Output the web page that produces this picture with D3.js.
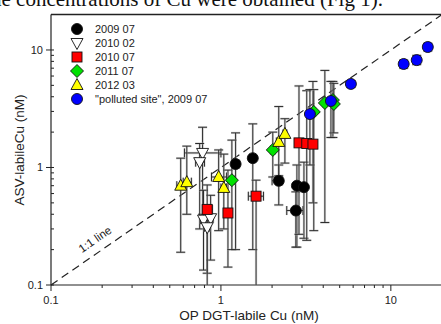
<!DOCTYPE html>
<html lang="en">
<head>
<meta charset="UTF-8">
<title>ASV vs DGT labile Cu</title>
<script src="https://d3js.org/d3.v7.min.js"></script>
<style>
    body { margin: 0; background: #fff; overflow: hidden; }
    svg { display: block; font-family: "Liberation Sans", Arial, sans-serif; }
</style>
</head>
<body>
<div id="chart"></div>
<script>
// each row: [x, y, yLo, yHi, xLo, xHi]
const jul2009 = [
    [1.22, 1.07, 0.20, 1.97, 1.17, 1.28],
    [1.54, 1.20, 0.20, 2.35, 1.48, 1.60],
    [2.19, 0.77, 0.48, 1.05, 2.00, 2.30],
    [2.80, 0.70, 0.21, 1.05, 2.72, 2.88],
    [3.08, 0.68, 0.25, 1.11, 3.00, 3.16],
    [2.76, 0.43, 0.21, 0.62, 2.44, 3.04]
];
const feb2010 = [
    [0.78, 1.33, 0.40, 2.20, 0.61, 1.00],
    [0.75, 1.11, 0.30, 1.60, 0.71, 0.80],
    [0.79, 0.36, 0.134, 0.64, 0.76, 0.82],
    [0.87, 0.37, 0.163, 0.58, 0.84, 0.90],
    [0.83, 0.31, 0.126, 0.48, 0.80, 0.86]
];
const jul2010 = [
    [0.83, 0.44, 0.05, 0.71, 0.78, 0.89],
    [1.10, 0.41, 0.142, 0.95, 1.05, 1.16],
    [1.61, 0.57, 0.05, 0.78, 1.45, 1.78],
    [2.88, 1.62, 0.27, 4.94, 2.82, 2.94],
    [3.20, 1.60, 0.24, 4.50, 3.14, 3.26],
    [3.48, 1.58, 0.50, 5.40, 3.42, 3.54]
];
const jul2011 = [
    [1.16, 0.78, 0.20, 1.71, 1.12, 1.20],
    [2.02, 1.41, 0.83, 2.00, 1.96, 2.08],
    [3.52, 2.97, 0.29, 4.60, 3.44, 3.60],
    [4.09, 3.54, 0.34, 6.70, 4.00, 4.18],
    [4.56, 3.75, 1.80, 5.40, 4.46, 4.66],
    [4.62, 3.47, 1.97, 5.20, 4.52, 4.72]
];
const mar2012 = [
    [0.58, 0.70, 0.19, 1.20, 0.55, 0.62],
    [0.63, 0.75, 0.40, 1.52, 0.60, 0.67],
    [0.97, 0.83, 0.29, 1.41, 0.88, 1.08],
    [1.04, 0.67, 0.30, 1.30, 1.00, 1.08],
    [2.19, 1.65, 0.85, 3.30, 2.12, 2.26],
    [2.38, 1.93, 1.09, 2.60, 2.32, 2.44]
];
const polluted = [
    [3.34, 2.85, 1.05, 4.60, 3.26, 3.42],
    [4.44, 3.68, 1.80, 5.40, 4.34, 4.54],
    [5.82, 5.14, 4.80, 5.50, 5.65, 6.00],
    [11.9, 7.60, 7.00, 8.20, 11.5, 12.3],
    [14.2, 8.20, 7.50, 9.00, 13.7, 14.7],
    [16.5, 10.6, 9.80, 11.4, 15.9, 17.1]
];

const legendLabels = ["2009 07", "2010 02", "2010 07", "2011 07", "2012 03", "\"polluted site\", 2009 07"];
const xTickLabels = ["0.1", "1", "10"];
const yTickLabels = ["0.1", "1", "10"];

const series = [
    { data: jul2009, shape: "circle", fill: "#000" },
    { data: feb2010, shape: "triangleDown", fill: "#fff" },
    { data: jul2010, shape: "square", fill: "#f00" },
    { data: jul2011, shape: "diamond", fill: "#00e000" },
    { data: mar2012, shape: "triangle", fill: "#ffff00" },
    { data: polluted, shape: "circle", fill: "#0000ff" }
];

const width = 441, height = 324;
const svg = d3.select("#chart").append("svg")
    .attr("width", width).attr("height", height);

// cropped caption line from the page above the figure
svg.append("text")
    .attr("x", -9).attr("y", 6)
    .attr("font-family", "'Liberation Serif', 'Times New Roman', serif")
    .attr("font-size", 21)
    .attr("fill", "#111")
    .text("he concentrations of Cu were obtained (Fig 1).");

const x = d3.scaleLog().domain([0.1, 20]).range([51, 442]);
const y = d3.scaleLog().domain([0.1, 20]).range([285, 14.6]);

svg.append("clipPath").attr("id", "plotClip")
    .append("rect").attr("x", 51).attr("y", 14.6).attr("width", 400).attr("height", 270.4);

// frame
svg.append("line").attr("x1", 51).attr("x2", 441).attr("y1", 14.6).attr("y2", 14.6)
    .attr("stroke", "#222").attr("stroke-width", 1.5);

// axes
const majors = [0.1, 1, 10];
const minors = [];
[0.1, 1, 10].forEach(d => { for (let k = 2; k <= 9; k++) minors.push(d * k); });

const xMinor = minors.filter(v => v < 20);
const yMinor = minors.filter(v => v < 20);

const xAxis = svg.append("g").attr("transform", "translate(0,285)");
xAxis.append("line").attr("x1", 51).attr("x2", 441).attr("stroke", "#222").attr("stroke-width", 1.2);
xAxis.selectAll(".minor").data(xMinor).enter().append("line")
    .attr("x1", d => x(d)).attr("x2", d => x(d)).attr("y1", 0).attr("y2", 3)
    .attr("stroke", "#222");
xAxis.selectAll(".major").data(majors).enter().append("line")
    .attr("x1", d => x(d)).attr("x2", d => x(d)).attr("y1", 0).attr("y2", 6)
    .attr("stroke", "#222");
xAxis.selectAll(".lbl").data(majors).enter().append("text")
    .attr("x", d => x(d)).attr("y", 19)
    .attr("text-anchor", "middle").attr("font-size", 11).attr("fill", "#222")
    .text((d, i) => xTickLabels[i]);

const yAxis = svg.append("g").attr("transform", "translate(51,0)");
yAxis.append("line").attr("y1", 14.6).attr("y2", 285).attr("stroke", "#222").attr("stroke-width", 1.2);
yAxis.selectAll(".minor").data(yMinor).enter().append("line")
    .attr("y1", d => y(d)).attr("y2", d => y(d)).attr("x1", 0).attr("x2", 3)
    .attr("stroke", "#222");
yAxis.selectAll(".major").data(majors).enter().append("line")
    .attr("y1", d => y(d)).attr("y2", d => y(d)).attr("x1", -5).attr("x2", 3)
    .attr("stroke", "#222");
yAxis.selectAll(".lbl").data(majors).enter().append("text")
    .attr("x", -8).attr("y", d => y(d) + 4)
    .attr("text-anchor", "end").attr("font-size", 11).attr("fill", "#222")
    .text((d, i) => yTickLabels[i]);

svg.append("text")
    .attr("x", 249).attr("y", 320)
    .attr("text-anchor", "middle").attr("font-size", 13.5).attr("fill", "#222")
    .text("OP DGT-labile Cu (nM)");
svg.append("text")
    .attr("transform", "translate(24,150) rotate(-90)")
    .attr("text-anchor", "middle").attr("font-size", 13.5).attr("fill", "#222")
    .text("ASV-labileCu (nM)");

// 1:1 line
svg.append("line")
    .attr("x1", x(0.1)).attr("y1", y(0.1)).attr("x2", x(20)).attr("y2", y(20))
    .attr("stroke", "#222").attr("stroke-width", 1.2).attr("stroke-dasharray", "8,5");
const ang = Math.atan2(y(0.1) - y(20), x(20) - x(0.1)) * 180 / Math.PI;
svg.append("text")
    .attr("transform", `translate(${x(0.2) - 5},${y(0.2) - 7}) rotate(${-ang})`)
    .attr("text-anchor", "middle").attr("font-size", 11.5).attr("fill", "#222")
    .text("1:1 line");

// markers
function drawShape(g, shape, fill, cx, cy) {
    const st = s => s.attr("fill", fill).attr("stroke", "#111").attr("stroke-width", 0.9);
    if (shape === "circle") {
        st(g.append("circle").attr("cx", cx).attr("cy", cy).attr("r", 5.5));
    } else if (shape === "square") {
        st(g.append("rect").attr("x", cx - 5).attr("y", cy - 5).attr("width", 10).attr("height", 10));
    } else if (shape === "diamond") {
        st(g.append("path").attr("d", `M${cx},${cy - 6.5}L${cx + 6.5},${cy}L${cx},${cy + 6.5}L${cx - 6.5},${cy}Z`));
    } else if (shape === "triangle") {
        st(g.append("path").attr("d", `M${cx},${cy - 6.5}L${cx + 6},${cy + 4.5}L${cx - 6},${cy + 4.5}Z`));
    } else if (shape === "triangleDown") {
        st(g.append("path").attr("d", `M${cx},${cy + 6.5}L${cx + 6},${cy - 4.5}L${cx - 6},${cy - 4.5}Z`));
    }
}

const plot = svg.append("g").attr("clip-path", "url(#plotClip)");
const errG = plot.append("g");
const cap = 4.5;
series.forEach(s => {
    s.data.forEach(r => {
        const cx = x(r[0]), cy = y(r[1]);
        const y0 = y(r[2]), y1 = y(r[3]), x0 = x(r[4]), x1 = x(r[5]);
        const p = `M${cx},${y0}L${cx},${y1}M${cx - cap},${y0}L${cx + cap},${y0}M${cx - cap},${y1}L${cx + cap},${y1}` +
            `M${x0},${cy}L${x1},${cy}M${x0},${cy - cap}L${x0},${cy + cap}M${x1},${cy - cap}L${x1},${cy + cap}`;
        errG.append("path").attr("d", p).attr("fill", "none")
            .attr("stroke", "#b0b0b0").attr("stroke-width", 2.4).attr("opacity", 0.45);
        errG.append("path").attr("d", p).attr("fill", "none")
            .attr("stroke", "#2a2a2a").attr("stroke-width", 1);
    });
});
const markG = plot.append("g");
series.forEach(s => {
    s.data.forEach(r => drawShape(markG, s.shape, s.fill, x(r[0]), y(r[1])));
});

// legend
const leg = svg.append("g");
legendLabels.forEach((lab, i) => {
    const ly = 29 + i * 14;
    drawShape(leg, series[i].shape, series[i].fill, 77, ly);
    leg.append("text").attr("x", 95).attr("y", ly + 4)
        .attr("font-size", 11).attr("fill", "#222").text(lab);
});
</script>
</body>
</html>
